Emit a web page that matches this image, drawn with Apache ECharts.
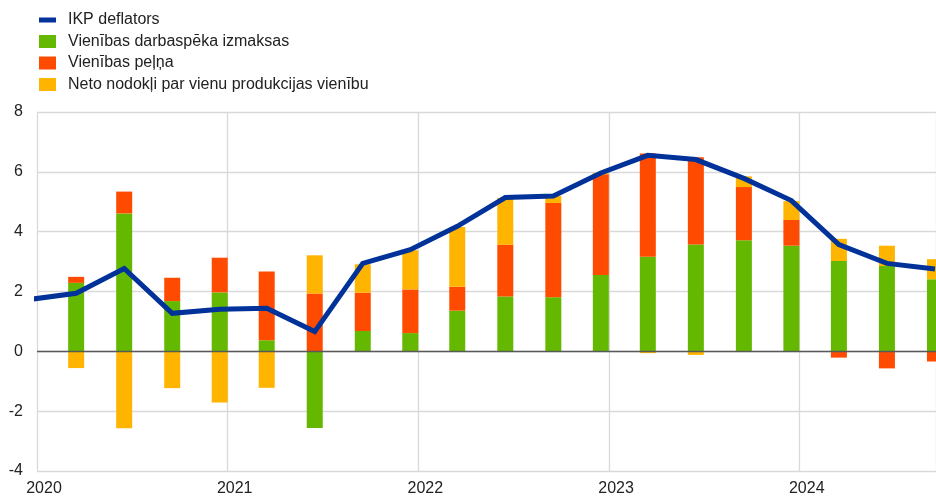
<!DOCTYPE html>
<html>
<head>
<meta charset="utf-8">
<script src="https://cdn.jsdelivr.net/npm/echarts@6/dist/echarts.min.js"></script>
<style>
    html, body { margin: 0; padding: 0; background: #fff; }
    #chart { width: 936px; height: 497px; }
</style>
</head>
<body>
<div id="chart"></div>
<script>
// ceturkšņi (2019Q4 tikai līnijas sākumam, ass sākas 2020)
var quarters = ['2019Q4',
    '2020Q1', '2020Q2', '2020Q3', '2020Q4',
    '2021Q1', '2021Q2', '2021Q3', '2021Q4',
    '2022Q1', '2022Q2', '2022Q3', '2022Q4',
    '2023Q1', '2023Q2', '2023Q3', '2023Q4',
    '2024Q1', '2024Q2', '2024Q3'];

var deflator = [1.73,
    1.94, 2.77, 1.27, 1.41,
    1.44, 0.66, 2.94, 3.40,
    4.18, 5.14, 5.19, 5.96,
    6.55, 6.41, 5.78, 5.04,
    3.57, 2.94, 2.75];

var labourCost = [null,
    2.29, 4.61, 1.68, 1.97,
    0.37, -2.56, 0.68, 0.61,
    1.36, 1.83, 1.81, 2.55,
    3.16, 3.57, 3.71, 3.53,
    3.02, 2.85, 2.41];

var profits = [null,
    0.20, 0.73, 0.78, 1.16,
    2.30, 1.93, 1.28, 1.46,
    0.80, 1.73, 3.15, 3.37,
    3.45, 2.92, 1.78, 0.86,
    -0.21, -0.57, -0.34];

var taxes = [null,
    -0.56, -2.57, -1.23, -1.71,
    -1.22, 1.28, 0.95, 1.31,
    2.00, 1.57, 0.23, 0.04,
    -0.06, -0.12, 0.36, 0.63,
    0.74, 0.68, 0.67];

var names = ['IKP deflators', 'Vienības darbaspēka izmaksas', 'Vienības peļņa', 'Neto nodokļi par vienu produkcijas vienību'];

//ceturksnis -> datums (ceturkšņa pēdējā mēneša vidus)
function quarterDate(q) {
    var year = parseInt(q.substring(0, 4), 10);
    var n = parseInt(q.substring(5), 10);
    return new Date(year, 3 * n - 1, 16).getTime();
}

// [vērtība, datums] - vērtība pirmajā dimensijā, lai kraušana notiktu pa y
function toPairs(values) {
    var arr = [];
    for (var i = 0; i < quarters.length; i++) {
        if (values[i] == null) continue;
        arr.push([values[i], quarterDate(quarters[i])]);
    }
    return arr;
}

var myChart = echarts.init(document.getElementById('chart'), null, { renderer: 'canvas' });

var font = 'Liberation Sans, Arial, sans-serif';
var DAY = 24 * 3600 * 1000;
var xMin = new Date(2020, 0, 1).getTime();
var xMax = new Date(2024, 8, 18).getTime();
// gadu ass (tikai režģim un uzrakstiem), tāds pats mērogs kā datu asij
var yearSpan = Math.round((new Date(2024, 0, 1).getTime() - xMin) / DAY);
var yearMax = 2020 + 4 * Math.round((xMax - xMin) / DAY) / yearSpan;

function barSeries(name, color, values) {
    return {
        name: name,
        type: 'bar',
        stack: 'total',
        barWidth: 16,
        encode: { x: 1, y: 0 },
        itemStyle: { color: color },
        emphasis: { disabled: true },
        data: toPairs(values)
    };
}

var option = {
    animation: false,
    textStyle: { fontFamily: font },
    legend: {
        orient: 'vertical',
        left: 34,
        top: 7,
        itemWidth: 17,
        itemHeight: 13,
        itemGap: 5.5,
        textStyle: { fontSize: 16, color: '#222', fontFamily: font, padding: [0, 0, 0, 7] },
        data: [
            { name: names[0], icon: 'path://M0,0 L17,0 L17,5 L0,5 Z' },
            { name: names[1], icon: 'rect' },
            { name: names[2], icon: 'rect' },
            { name: names[3], icon: 'rect' }
        ]
    },
    grid: {
        left: 37,
        right: 0,
        top: 112,
        bottom: 26,
        containLabel: false,
        outerBoundsMode: 'none'
    },
    xAxis: [
        {
            type: 'value',
            min: xMin,
            max: xMax,
            show: false,
            axisLine: { onZero: false },
            splitLine: { show: false }
        },
        {
            type: 'value',
            position: 'bottom',
            min: 2020,
            max: yearMax,
            interval: 1,
            axisLine: { show: false, onZero: false },
            axisTick: { show: false },
            splitLine: { show: true, lineStyle: { color: '#d9d9d9', width: 1.3 } },
            axisLabel: {
                fontSize: 16,
                color: '#222',
                margin: 10,
                padding: [0, 0, 0, 14],
                showMaxLabel: false,
                formatter: function (v) { return String(v); }
            }
        }
    ],
    yAxis: {
        type: 'value',
        min: -4,
        max: 8,
        interval: 2,
        axisLine: { show: false },
        axisTick: { show: false },
        splitLine: { show: true, lineStyle: { color: '#d9d9d9', width: 1.3 } },
        axisLabel: { fontSize: 16, color: '#222', margin: 14 }
    },
    series: [
        barSeries(names[1], '#65b800', labourCost),
        barSeries(names[2], '#ff4b00', profits),
        barSeries(names[3], '#ffb400', taxes),
        {
            name: names[0],
            type: 'line',
            symbol: 'none',
            z: 5,
            encode: { x: 1, y: 0 },
            lineStyle: { color: '#003299', width: 5, join: 'miter' },
            itemStyle: { color: '#003299' },
            emphasis: { disabled: true },
            markLine: {
                silent: true,
                symbol: 'none',
                label: { show: false },
                lineStyle: { color: '#595959', width: 1.3, type: 'solid' },
                data: [{ yAxis: 0 }]
            },
            data: toPairs(deflator)
        }
    ]
};

myChart.setOption(option);
</script>
</body>
</html>
